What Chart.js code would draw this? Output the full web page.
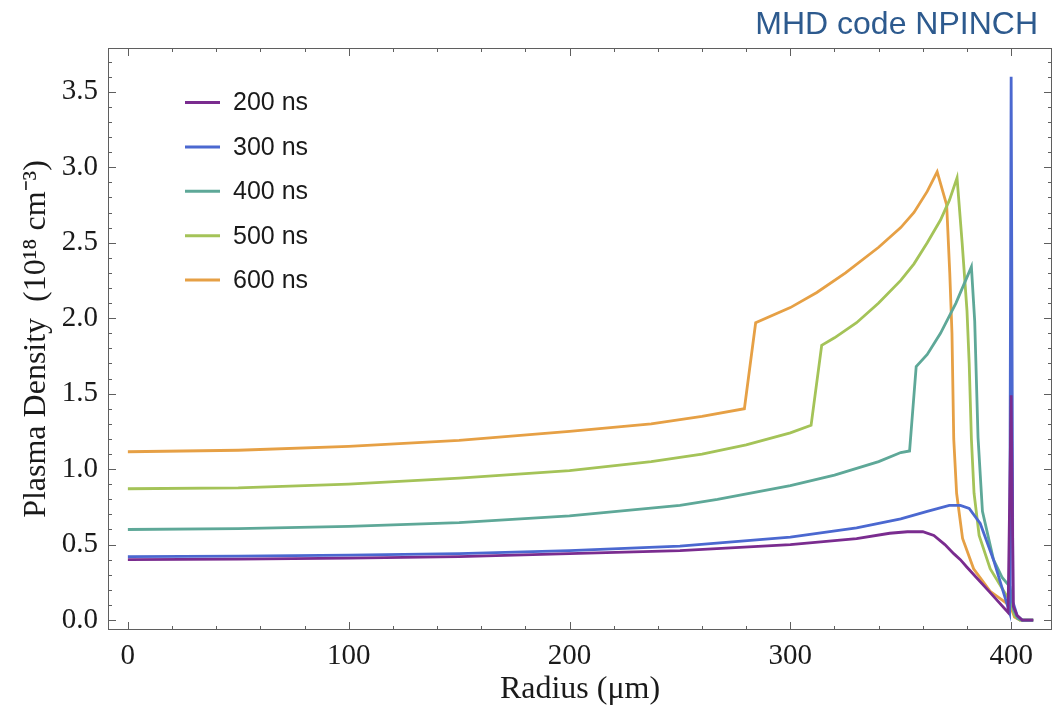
<!DOCTYPE html>
<html>
<head>
<meta charset="utf-8">
<script src="https://cdn.jsdelivr.net/npm/chart.js@4.4.1/dist/chart.umd.min.js"></script>
<style>
  html, body { margin: 0; padding: 0; background: #fff; }
  #wrap { width: 1055px; height: 719px; }
</style>
</head>
<body>
<div id="wrap"><canvas id="densityChart" width="1055" height="719"></canvas></div>
<script>
// radius (um) and density (1e18 cm^-3)
const radius200 = [0, 50, 100, 150, 200, 250, 300, 330, 345, 353, 360, 365, 370, 374, 377, 380, 390, 398.6, 400, 401, 402.7, 405, 410];
const density200 = [0.40, 0.403, 0.41, 0.42, 0.44, 0.46, 0.50, 0.54, 0.575, 0.585, 0.585, 0.56, 0.50, 0.44, 0.40, 0.35, 0.19, 0.05, 1.49, 0.09, 0.03, 0.0, 0.0];

const radius300 = [0, 50, 100, 150, 200, 250, 300, 330, 350, 362, 372, 377, 381, 386, 392, 397, 399.3, 400, 400.8, 402.7, 405, 410];
const density300 = [0.42, 0.423, 0.43, 0.44, 0.46, 0.49, 0.55, 0.61, 0.67, 0.72, 0.76, 0.76, 0.74, 0.64, 0.40, 0.16, 0.05, 3.6, 0.12, 0.03, 0.0, 0.0];

const radius400 = [0, 50, 100, 150, 200, 250, 267, 300, 320, 340, 350, 354, 357, 362, 368, 375, 382, 383.5, 385, 387, 392, 396, 399.5, 401, 403, 405, 410];
const density400 = [0.60, 0.605, 0.62, 0.645, 0.69, 0.76, 0.80, 0.89, 0.96, 1.05, 1.11, 1.12, 1.68, 1.76, 1.90, 2.10, 2.34, 1.98, 1.21, 0.72, 0.40, 0.28, 0.22, 0.07, 0.01, 0.0, 0.0];

const radius500 = [0, 50, 100, 150, 200, 237, 260, 280, 300, 309.4, 314.2, 320, 330, 340, 350, 356, 362, 368, 372, 375.5, 377.8, 380, 381, 382, 383.2, 385.5, 390.5, 398, 400, 401.5, 404, 410];
const density500 = [0.87, 0.875, 0.90, 0.94, 0.99, 1.05, 1.10, 1.16, 1.24, 1.29, 1.82, 1.87, 1.97, 2.10, 2.25, 2.36, 2.50, 2.65, 2.78, 2.93, 2.50, 2.05, 1.70, 1.20, 0.84, 0.56, 0.34, 0.16, 0.12, 0.03, 0.0, 0.0];

const radius600 = [0, 50, 100, 150, 200, 237, 260, 279.2, 284.3, 300, 312, 325, 340, 350, 356, 362, 366.5, 370.8, 372.2, 373.2, 374, 375.3, 378, 383, 390.5, 398, 400, 401.5, 404, 410];
const density600 = [1.115, 1.125, 1.15, 1.19, 1.25, 1.30, 1.35, 1.40, 1.97, 2.07, 2.17, 2.30, 2.47, 2.60, 2.70, 2.84, 2.97, 2.75, 2.30, 1.90, 1.20, 0.84, 0.54, 0.34, 0.19, 0.11, 0.08, 0.02, 0.0, 0.0];

const seriesLabels = ['200 ns', '300 ns', '400 ns', '500 ns', '600 ns'];
const xTickValues = [0, 100, 200, 300, 400];
const yTickValues = [0, 0.5, 1.0, 1.5, 2.0, 2.5, 3.0, 3.5];

const lineColors = ['#7a2c8f', '#4b68d0', '#5ea898', '#a4c358', '#e6a045'];

const toPoints = (xs, ys) => xs.map((x, i) => ({ x: x, y: ys[i] }));
const allSeries = [
    toPoints(radius200, density200),
    toPoints(radius300, density300),
    toPoints(radius400, density400),
    toPoints(radius500, density500),
    toPoints(radius600, density600),
];

// frame with inward ticks on all four sides (Mathematica style)
const frameTicks = {
    id: 'frameTicks',
    beforeDatasetsDraw(chart) {
        const { ctx, chartArea: a, scales: { x, y } } = chart;
        ctx.save();
        ctx.strokeStyle = '#5f5f5f';
        ctx.lineWidth = 1;
        ctx.strokeRect(a.left + 0.5, a.top + 0.5, a.right - a.left - 1, a.bottom - a.top - 1);
        const seg = (x1, y1, x2, y2) => {
            ctx.beginPath();
            ctx.moveTo(x1, y1);
            ctx.lineTo(x2, y2);
            ctx.stroke();
        };
        for (let v = 0; v <= x.max; v += 20) {
            const px = Math.round(x.getPixelForValue(v)) + 0.5;
            const len = v % 100 === 0 ? 8 : 4;
            seg(px, a.bottom, px, a.bottom - len);
            seg(px, a.top, px, a.top + len);
        }
        for (let i = 0; i / 10 <= y.max; i++) {
            const py = Math.round(y.getPixelForValue(i / 10)) + 0.5;
            const len = i % 5 === 0 ? 8 : 4;
            seg(a.left, py, a.left + len, py);
            seg(a.right, py, a.right - len, py);
        }
        ctx.restore();
    },
    afterDraw(chart) {
        const { ctx } = chart;
        ctx.save();
        // legend inside the plot
        ctx.font = '25px "Liberation Sans", Arial, sans-serif';
        ctx.textBaseline = 'middle';
        chart.data.datasets.forEach((ds, i) => {
            const yy = 102.5 + i * 44.4;
            ctx.strokeStyle = ds.borderColor;
            ctx.lineWidth = 3;
            ctx.beginPath();
            ctx.moveTo(185, yy);
            ctx.lineTo(220, yy);
            ctx.stroke();
            ctx.fillStyle = '#1a1a1a';
            ctx.fillText(ds.label, 233, yy + 1);
        });
        // slide caption
        ctx.font = '32px "Liberation Sans", Arial, sans-serif';
        ctx.fillStyle = '#2d5a8e';
        ctx.textAlign = 'right';
        ctx.textBaseline = 'alphabetic';
        ctx.fillText('MHD code NPINCH', 1038, 34);
        ctx.restore();
    },
};

const serif = '"Liberation Serif", "Times New Roman", serif';

new Chart(document.getElementById('densityChart').getContext('2d'), {
    type: 'line',
    data: {
        datasets: allSeries.map((pts, i) => ({
            label: seriesLabels[i],
            data: pts,
            borderColor: lineColors[i],
            backgroundColor: lineColors[i],
            borderWidth: 2.8,
            pointRadius: 0,
            tension: 0,
            fill: false,
        })),
    },
    options: {
        responsive: false,
        animation: false,
        layout: {
            padding: { top: 48, right: 3, left: 0, bottom: 0 },
        },
        plugins: {
            legend: { display: false },
            tooltip: { enabled: false },
        },
        scales: {
            x: {
                type: 'linear',
                min: -9,
                max: 418.5,
                afterBuildTicks: (scale) => {
                    scale.ticks = xTickValues.map((v) => ({ value: v }));
                },
                afterFit: (scale) => {
                    scale.height = 89;
                },
                grid: { display: false, drawTicks: false },
                border: { display: false },
                ticks: {
                    padding: 9,
                    color: '#1a1a1a',
                    font: { family: serif, size: 29 },
                    maxRotation: 0,
                    callback: (v) => String(v),
                },
                title: {
                    display: true,
                    text: 'Radius (μm)',
                    color: '#1a1a1a',
                    font: { family: serif, size: 32 },
                    padding: { top: 0, bottom: 10 },
                },
            },
            y: {
                type: 'linear',
                min: -0.066,
                max: 3.79,
                afterBuildTicks: (scale) => {
                    scale.ticks = yTickValues.map((v) => ({ value: v }));
                },
                afterFit: (scale) => {
                    scale.width = 108;
                },
                grid: { display: false, drawTicks: false },
                border: { display: false },
                ticks: {
                    padding: 10,
                    color: '#1a1a1a',
                    font: { family: serif, size: 29 },
                    callback: (v) => Number(v).toFixed(1),
                },
                title: {
                    display: true,
                    text: 'Plasma Density  (10¹⁸ cm⁻³)',
                    color: '#1a1a1a',
                    font: { family: serif, size: 32 },
                    padding: { top: 17, bottom: 0 },
                },
            },
        },
    },
    plugins: [frameTicks],
});
</script>
</body>
</html>
